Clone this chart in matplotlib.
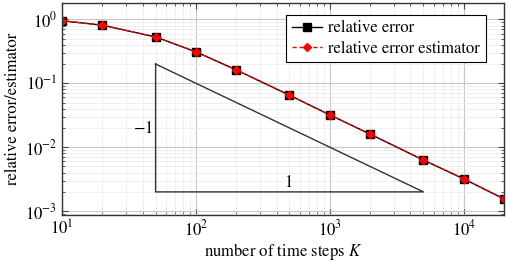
import matplotlib
matplotlib.use("Agg")
import matplotlib.pyplot as plt
from matplotlib.ticker import LogLocator, NullFormatter

plt.rcParams['font.family'] = ['STIXGeneral', 'DejaVu Serif']
plt.rcParams['mathtext.fontset'] = 'stix'

K = [10, 20, 50, 100, 200, 500, 1000, 2000, 5000, 10000, 20000]
rel_err = [0.95, 0.81, 0.53, 0.31, 0.162, 0.065, 0.032, 0.016, 0.0063, 0.0032, 0.00155]
rel_est = [0.95, 0.81, 0.53, 0.31, 0.162, 0.065, 0.032, 0.016, 0.0063, 0.0032, 0.00155]

tri_x = [50, 50, 5000, 50]
tri_y = [0.2, 0.002, 0.002, 0.2]

FS = 12

fig = plt.figure(figsize=(5.1, 2.63), dpi=100)
ax = fig.add_axes([62/510, 1-215/263, (504-62)/510, (215-3)/263])
ax.set_xscale('log')
ax.set_yscale('log')
ax.set_xlim(10, 20000)
ax.set_ylim(0.00087, 1.8)

ax.grid(True, which='major', color='#c8c8c8', lw=0.8)
ax.grid(True, which='minor', color='#ececec', lw=0.6)
ax.set_axisbelow(True)

ax.plot(tri_x, tri_y, color='#333333', lw=1.0)
ax.text(40, 0.0195, r'$-1$', fontsize=FS, ha='center', va='center')
ax.text(490, 0.0028, '1', fontsize=FS, ha='center', va='center')

ax.plot(K, rel_err, color='black', lw=1.0, marker='s', ms=5.5, mfc='black', mec='black',
        label='relative error')
ax.plot(K, rel_est, color='red', lw=1.0, ls=(0, (3, 2)), marker='D', ms=3.8, mfc='red', mec='red',
        label='relative error estimator')

ax.tick_params(which='both', direction='in', top=True, right=True, labelsize=FS, color='#444444')
ax.tick_params(which='major', length=4)
ax.tick_params(which='minor', length=2)
ax.xaxis.set_major_locator(LogLocator(base=10, numticks=10))
ax.xaxis.set_minor_locator(LogLocator(base=10, subs=range(2, 10), numticks=20))
ax.xaxis.set_minor_formatter(NullFormatter())
ax.yaxis.set_minor_locator(LogLocator(base=10, subs=range(2, 10), numticks=20))
ax.yaxis.set_minor_formatter(NullFormatter())

for s in ax.spines.values():
    s.set_color('#333333')
    s.set_linewidth(1.0)

ax.set_xlabel(r'number of time steps $K$', fontsize=FS, labelpad=1)
ax.set_ylabel('relative error/estimator', fontsize=FS, labelpad=3)

leg = ax.legend(loc='upper right', fontsize=FS, fancybox=False, framealpha=1,
                edgecolor='black', borderpad=0.35, handlelength=1.8, handletextpad=0.4,
                labelspacing=0.25, bbox_to_anchor=(0.978, 0.985))
leg.get_frame().set_linewidth(0.8)

fig.savefig('out.png', dpi=100)
